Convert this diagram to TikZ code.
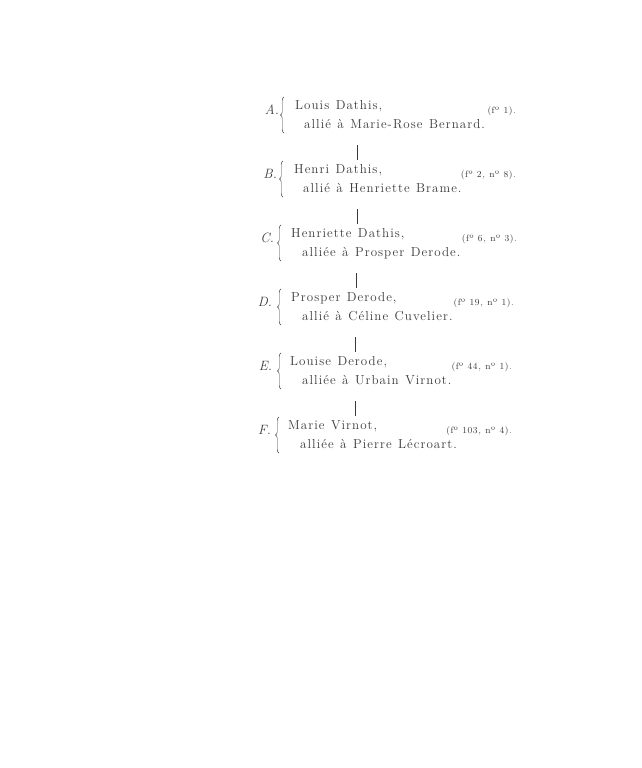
\documentclass[tikz,border=0pt]{standalone}
\usepackage{fontspec}
\usetikzlibrary{decorations.pathreplacing}
\definecolor{ink}{HTML}{3A3A3A}
\newfontfamily\bodyfnt{Latin Modern Roman}[LetterSpace=8]
\newfontfamily\reffnt{Latin Modern Roman}[LetterSpace=6]
\newcommand\txtf{\bodyfnt\fontsize{13}{13}\selectfont\spaceskip=6.5pt plus 1pt\relax}
\newcommand\reff{\reffnt\fontsize{9.2}{10}\selectfont\spaceskip=4.5pt plus 1pt\relax}
\begin{document}
\begin{tikzpicture}[x=1pt,y=-1pt]
\tikzset{
 txt/.style={anchor=base west, inner sep=0pt, text=ink, font=\txtf},
 lab/.style={anchor=base east, inner sep=0pt, text=ink, font=\fontsize{13.5}{14}\selectfont\itshape},
 refn/.style={anchor=base east, inner sep=0pt, text=ink, font=\reff},
 brc/.style={draw=ink, line width=0.45pt, decorate, decoration={brace, amplitude=3.5pt}},
 link/.style={draw=ink, line width=1pt},
}
\useasboundingbox[fill=white] (0,0) rectangle (641,768);
% A
\node[lab] (la) at (279,114) {A.};
\node[txt] (a1) at (295,109) {Louis Dathis,};
\node[txt] (a2) at (304,128) {allié à Marie-Rose Bernard.};
\node[refn] (ra) at (516,113) {(fº 1).};
\draw[brc] (284,133) -- (284,97);
% B
\node[lab] (lb) at (277,178) {B.};
\node[txt] (b1) at (294,173) {Henri Dathis,};
\node[txt] (b2) at (303,192) {allié à Henriette Brame.};
\node[refn] (rb) at (516,177) {(fº 2, nº 8).};
\draw[brc] (283,197) -- (283,161);
% C
\node[lab] (lc) at (274,242) {C.};
\node[txt] (c1) at (291,237) {Henriette Dathis,};
\node[txt] (c2) at (302,256) {alliée à Prosper Derode.};
\node[refn] (rc) at (517,241) {(fº 6, nº 3).};
\draw[brc] (281,261) -- (281,225);
% D
\node[lab] (ld) at (272,306) {D.};
\node[txt] (d1) at (291,301) {Prosper Derode,};
\node[txt] (d2) at (302,320) {allié à Céline Cuvelier.};
\node[refn] (rd) at (514,305) {(fº 19, nº 1).};
\draw[brc] (281,325) -- (281,289);
% E
\node[lab] (le) at (272,370) {E.};
\node[txt] (e1) at (290,365) {Louise Derode,};
\node[txt] (e2) at (302,384) {alliée à Urbain Virnot.};
\node[refn] (re) at (512,369) {(fº 44, nº 1).};
\draw[brc] (281,389) -- (281,353);
% F
\node[lab] (lf) at (271,434) {F.};
\node[txt] (f1) at (288,429) {Marie Virnot,};
\node[txt] (f2) at (300,448) {alliée à Pierre Lécroart.};
\node[refn] (rf) at (512,433) {(fº 103, nº 4).};
\draw[brc] (279,453) -- (279,417);
% connectors
\coordinate (ab1) at (357,145); \coordinate (ab2) at (357,160);
\coordinate (bc1) at (357,209); \coordinate (bc2) at (357,224);
\coordinate (cd1) at (356,273); \coordinate (cd2) at (356,288);
\coordinate (de1) at (355,337); \coordinate (de2) at (355,352);
\coordinate (ef1) at (355,401); \coordinate (ef2) at (355,416);
\draw[link] (ab1) -- (ab2);
\draw[link] (bc1) -- (bc2);
\draw[link] (cd1) -- (cd2);
\draw[link] (de1) -- (de2);
\draw[link] (ef1) -- (ef2);
\end{tikzpicture}
\end{document}
